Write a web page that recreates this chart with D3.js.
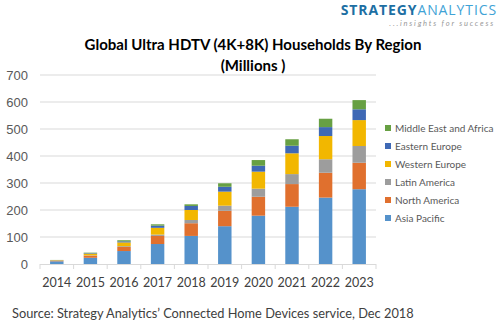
<!DOCTYPE html>
<html lang="en">
<head>
  <meta charset="UTF-8">
  <title>Global Ultra HDTV Households By Region</title>
  <style>
    html, body {
      margin: 0;
      background: #fff;
      overflow: hidden;
    }
    svg {
      display: block;
      font-family: Lato, "Open Sans", sans-serif;
    }
  </style>
</head>
<body>
  <svg width="500" height="334"></svg>
</body>
<script src="https://cdn.jsdelivr.net/npm/d3@7"></script>
<script type="text/javascript">
  const years = ['2014', '2015', '2016', '2017', '2018', '2019', '2020', '2021', '2022', '2023']
  const regions = ['Asia Pacific', 'North America', 'Latin America', 'Western Europe', 'Eastern Europe', 'Middle East and Africa']
  const colors = ['#5592cb', '#e0702e', '#9d9d9d', '#f2b700', '#3f69b5', '#67a043']

  // households in millions, one array per region
  const asiaPacific   = [10, 23, 48, 74, 104, 140, 179, 212, 246, 277]
  const northAmerica  = [2, 8, 15, 30, 47, 57, 70, 84, 92, 98]
  const latinAmerica  = [0.5, 1, 3, 5, 12, 19, 30, 37, 50, 62]
  const westernEurope = [1.5, 6, 14, 25, 37, 52, 63, 77, 86, 96]
  const easternEurope = [0.5, 2, 4, 8, 15, 18, 22, 28, 33, 40]
  const middleEast    = [0.5, 2, 4, 5, 6, 13, 21, 24, 31, 34]
  const yTicks = [0, 100, 200, 300, 400, 500, 600, 700]

  const series = [asiaPacific, northAmerica, latinAmerica, westernEurope, easternEurope, middleEast]
  const rows = years.map((y, i) => {
    const row = { year: y }
    regions.forEach((r, j) => { row[r] = series[j][i] })
    return row
  })

  const svg = d3.select('svg')
  const margin = { left: 40, right: 124, top: 75, bottom: 70 }
  const width = 500, height = 334

  const x = d3.scaleBand()
    .domain(years)
    .range([margin.left, width - margin.right])
    .paddingInner(0.6)
    .paddingOuter(0.3)

  const y = d3.scaleLinear()
    .domain([0, 700])
    .range([height - margin.bottom, margin.top])

  // gridlines
  svg.append('g')
    .selectAll('line')
    .data(yTicks.slice(1))
    .enter()
    .append('line')
    .attr('x1', margin.left)
    .attr('x2', width - margin.right)
    .attr('y1', d => y(d))
    .attr('y2', d => y(d))
    .attr('stroke', '#d9d9d9')

  // stacked bars
  const stacked = d3.stack().keys(regions)(rows)
  svg.append('g')
    .selectAll('g')
    .data(stacked)
    .enter()
    .append('g')
    .attr('fill', (d, i) => colors[i])
    .selectAll('rect')
    .data(d => d)
    .enter()
    .append('rect')
    .attr('x', d => x(d.data.year))
    .attr('width', x.bandwidth())
    .attr('y', d => y(d[1]))
    .attr('height', d => y(d[0]) - y(d[1]))

  // y axis labels
  const yAxis = svg.append('g')
    .attr('transform', 'translate(' + (margin.left - 12) + ',0)')
    .call(d3.axisLeft(y).tickValues(yTicks).tickSize(0).tickPadding(0))
  yAxis.select('.domain').remove()
  yAxis.selectAll('text')
    .attr('fill', '#595959')
    .attr('font-size', 13)

  // x axis with ticks between categories
  const xAxisY = y(0)
  const x0 = margin.left
  const x1 = width - margin.right
  svg.append('line')
    .attr('x1', x0)
    .attr('x2', x1)
    .attr('y1', xAxisY + 0.5)
    .attr('y2', xAxisY + 0.5)
    .attr('stroke', '#d9d9d9')
  svg.append('g')
    .selectAll('line')
    .data(d3.range(years.length + 1))
    .enter()
    .append('line')
    .attr('x1', i => x0 + i * (x1 - x0) / years.length)
    .attr('x2', i => x0 + i * (x1 - x0) / years.length)
    .attr('y1', xAxisY)
    .attr('y2', xAxisY + 5)
    .attr('stroke', '#d9d9d9')

  svg.append('g')
    .selectAll('text')
    .data(years)
    .enter()
    .append('text')
    .attr('x', d => x(d) + x.bandwidth() / 2)
    .attr('y', xAxisY + 23)
    .attr('text-anchor', 'middle')
    .attr('font-size', 12.5)
    .attr('fill', '#404040')
    .text(d => d)

  // legend, top entry is the last series
  const legend = svg.append('g')
    .selectAll('g')
    .data(regions.slice().reverse())
    .enter()
    .append('g')
    .attr('transform', (d, i) => 'translate(385,' + (128 + i * 18) + ')')
  legend.append('rect')
    .attr('x', 0)
    .attr('y', -3)
    .attr('width', 6)
    .attr('height', 6)
    .attr('fill', d => colors[regions.indexOf(d)])
  legend.append('text')
    .attr('x', 10)
    .attr('y', 4)
    .attr('font-size', 10)
    .attr('fill', '#595959')
    .text(d => d)

  // title
  svg.append('text')
    .attr('x', 253)
    .attr('y', 50)
    .attr('text-anchor', 'middle')
    .attr('font-size', 15)
    .attr('font-weight', 'bold')
    .attr('fill', '#000')
    .text('Global Ultra HDTV (4K+8K) Households By Region')
  svg.append('text')
    .attr('x', 253)
    .attr('y', 71)
    .attr('text-anchor', 'middle')
    .attr('font-size', 15)
    .attr('font-weight', 'bold')
    .attr('fill', '#000')
    .text('(Millions )')

  // source note
  svg.append('text')
    .attr('x', 12)
    .attr('y', 318)
    .attr('font-size', 12.8)
    .attr('fill', '#404040')
    .text('Source: Strategy Analytics\u2019 Connected Home Devices service, Dec 2018')

  // logo
  const logo = svg.append('text')
    .attr('x', 497)
    .attr('y', 15)
    .attr('text-anchor', 'end')
    .attr('font-size', 14)
    .attr('font-weight', 'bold')
    .attr('letter-spacing', 0.9)
    .attr('font-family', '"Open Sans", sans-serif')
  logo.append('tspan').attr('fill', '#1d6fa3').text('STRATEGY')
  logo.append('tspan').attr('fill', '#3fa3d6').attr('font-weight', 'normal').text('ANALYTICS')
  svg.append('text')
    .attr('x', 495)
    .attr('y', 26)
    .attr('text-anchor', 'end')
    .attr('font-size', 7.5)
    .attr('font-style', 'italic')
    .attr('letter-spacing', 1.8)
    .attr('fill', '#999')
    .text('...insights for success')
</script>
</html>
